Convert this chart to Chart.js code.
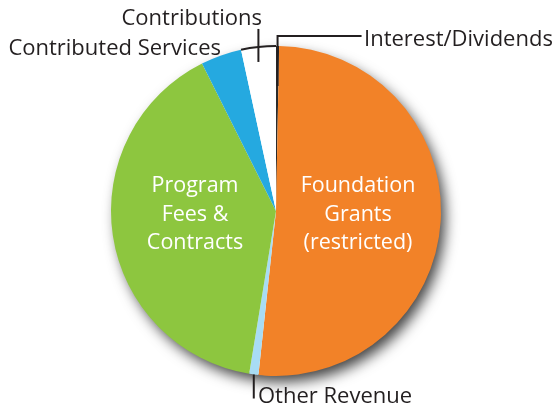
<!DOCTYPE html>
<html>
<head>
<meta charset="utf-8">
<script src="https://cdn.jsdelivr.net/npm/chart.js@4"></script>
<style>
  body { margin: 0; background: #fff; }
  #wrap { width: 556px; height: 411px; position: relative; }
</style>
</head>
<body>
<div id="wrap"><canvas id="pieChart"></canvas></div>
<script>
// revenue sources, clockwise from 12 o'clock
const categories = ["Interest/Dividends", "Foundation Grants (restricted)", "Other Revenue",
                    "Program Fees & Contracts", "Contributed Services", "Contributions"];
const shares = [0.3, 51.4, 0.9, 40.0, 4.0, 3.4];
const sliceColors = ["#2b2b2b", "#f28228", "#a8dcf4", "#8dc63f", "#25a9e0", "#ffffff"];

const innerFont = "21.5px 'Open Sans', 'Liberation Sans', sans-serif";
const outerFont = "22px 'Open Sans', 'Liberation Sans', sans-serif";
const inkColor = "#231f20";

// grey drop shadow under the whole pie
const pieShadow = {
    id: "pieShadow",
    beforeDatasetsDraw(chart) {
        let arc = chart.getDatasetMeta(0).data[0];
        let ctx = chart.ctx;
        ctx.save();
        ctx.shadowColor = "rgba(0,0,0,0.75)";
        ctx.shadowBlur = 14;
        ctx.shadowOffsetX = 5;
        ctx.shadowOffsetY = 7;
        ctx.fillStyle = "#ffffff";
        ctx.beginPath();
        ctx.arc(arc.x, arc.y, arc.outerRadius - 1, 0, Math.PI * 2);
        ctx.fill();
        ctx.restore();
    },
};

// text inside slices, outer labels and leader lines
const pieLabels = {
    id: "pieLabels",
    afterDatasetsDraw(chart) {
        let ctx = chart.ctx;
        let meta = chart.getDatasetMeta(0);
        let cx = meta.data[0].x;
        let cy = meta.data[0].y;
        let r = meta.data[0].outerRadius;
        let mid = (el) => (el.startAngle + el.endAngle) / 2;

        ctx.save();
        ctx.font = innerFont;
        ctx.fillStyle = "#ffffff";
        ctx.textAlign = "center";
        ctx.textBaseline = "alphabetic";
        ["Program", "Fees &", "Contracts"].forEach((t, i) => ctx.fillText(t, cx - 81, cy - 19 + i * 28.5));
        ["Foundation", "Grants", "(restricted)"].forEach((t, i) => ctx.fillText(t, cx + 82, cy - 19 + i * 28.5));

        ctx.strokeStyle = inkColor;
        ctx.lineWidth = 2;

        // Contributions: dark rim + tick
        let contrib = meta.data[5];
        ctx.beginPath();
        ctx.arc(cx, cy, r, contrib.startAngle, contrib.endAngle);
        ctx.stroke();
        let a = mid(contrib);
        let tx = cx + r * Math.cos(a);
        let ty = cy + r * Math.sin(a);
        ctx.beginPath();
        ctx.moveTo(tx, ty - 18);
        ctx.lineTo(tx, ty + 15);
        ctx.stroke();

        // Interest/Dividends leader
        let intr = meta.data[0];
        a = mid(intr);
        tx = cx + r * Math.cos(a);
        ty = cy + r * Math.sin(a);
        ctx.beginPath();
        ctx.moveTo(tx, ty + 40);
        ctx.lineTo(tx, ty - 10);
        ctx.lineTo(tx + 84, ty - 10);
        ctx.stroke();

        // Other Revenue leader
        let other = meta.data[2];
        a = mid(other);
        tx = cx + r * Math.cos(a);
        ty = cy + r * Math.sin(a);
        ctx.beginPath();
        ctx.moveTo(tx, ty);
        ctx.lineTo(tx, ty + 24);
        ctx.stroke();

        ctx.font = outerFont;
        ctx.fillStyle = inkColor;
        ctx.textAlign = "right";
        ctx.fillText("Contributions", 262, 25);
        ctx.fillText("Contributed Services", 221, 55);
        ctx.textAlign = "left";
        ctx.fillText("Interest/Dividends", 364, 46);
        ctx.fillText("Other Revenue", 258, 403);
        ctx.restore();
    },
};

var ctx = document.getElementById("pieChart").getContext("2d");
var myChart = new Chart(ctx, {
    type: "pie",
    data: {
        labels: categories,
        datasets: [
            {
                data: shares,
                backgroundColor: sliceColors,
                borderWidth: 0,
            },
        ],
    },
    options: {
        responsive: true,
        maintainAspectRatio: false,
        animation: false,
        layout: {
            padding: { top: 46, bottom: 35, left: 111, right: 115 },
        },
        plugins: {
            legend: { display: false },
            tooltip: { enabled: false },
        },
    },
    plugins: [pieShadow, pieLabels],
});
</script>
</body>
</html>
